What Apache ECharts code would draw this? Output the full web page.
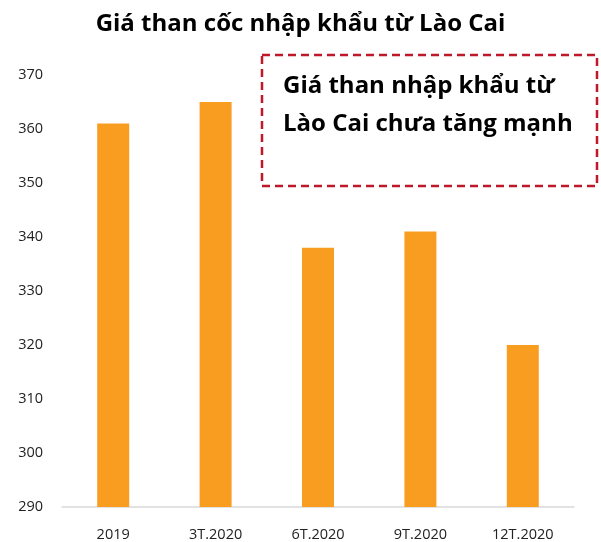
<!DOCTYPE html>
<html><head><meta charset="utf-8">
<script src="https://cdn.jsdelivr.net/npm/echarts@6/dist/echarts.min.js"></script>
<style>html,body{margin:0;padding:0;background:#fff}#c{width:601px;height:542px}</style>
</head><body><div id="c"></div>
<script>
const titleText = 'Giá than cốc nhập khẩu từ Lào Cai';
const categories = ['2019', '3T.2020', '6T.2020', '9T.2020', '12T.2020'];
const values = [361, 365, 338, 341, 320];
const noteLines = ['Giá than nhập khẩu từ', 'Lào Cai chưa tăng mạnh'];

const chart = echarts.init(document.getElementById('c'), null, {renderer: 'canvas'});
chart.setOption({
  animation: false,
  backgroundColor: '#fff',
  title: {
    text: titleText, left: 'center', top: 7,
    textStyle: {fontFamily: 'Open Sans', fontWeight: 'bold', fontSize: 24, color: '#000'}
  },
  grid: {left: 62, right: 27, top: 75, bottom: 34},
  xAxis: {
    type: 'category', data: categories,
    axisLine: {lineStyle: {color: '#d9d9d9', width: 1.5}},
    axisTick: {show: false},
    axisLabel: {color: '#222', fontFamily: 'Open Sans', fontSize: 14.5, margin: 20}
  },
  yAxis: {
    type: 'value', min: 290, max: 370, interval: 10,
    axisLine: {show: false}, axisTick: {show: false}, splitLine: {show: false},
    axisLabel: {color: '#222', fontFamily: 'Open Sans', fontSize: 14.5, margin: 19}
  },
  series: [{
    type: 'bar', data: values, barWidth: 32,
    itemStyle: {color: '#F99D21'}
  }],
  graphic: [
    {type: 'rect', shape: {x: 262, y: 55, width: 335, height: 131},
     style: {fill: 'none', stroke: '#C0182B', lineWidth: 2.5, lineDash: [8, 5]}},
    {type: 'text', left: 283, top: 67,
     style: {text: noteLines.join('\n'), fontFamily: 'Open Sans', fontWeight: 'bold', fontSize: 24, lineHeight: 38, fill: '#000'}}
  ]
});
</script></body></html>
